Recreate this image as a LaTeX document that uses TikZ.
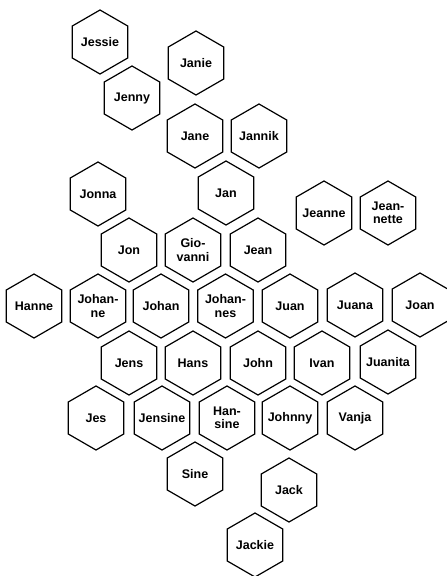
\documentclass[tikz,border=0pt]{standalone}
\usepackage{fontspec}
\setmainfont{Liberation Sans}
\usetikzlibrary{shapes.geometric}
\tikzset{
  hexa/.style={draw=black, line width=1.2pt, regular polygon, regular polygon sides=6,
    shape border rotate=30, minimum size=64pt, inner sep=0pt},
  hlbl/.style={align=center, inner sep=0pt,
    font=\bfseries\fontsize{12.5}{13.5}\selectfont}
}
\newcommand{\hexnode}[3]{%
  \node[hexa] (#1) at (#2) {};
  \node[hlbl] (#1-t) at (#1.center) {#3};}
\begin{document}
\begin{tikzpicture}[x=1pt,y=-1pt]
\useasboundingbox (0,0) rectangle (447,576);
\hexnode{jessie}{100,42}{Jessie}
\hexnode{janie}{196,63}{Janie}
\hexnode{jenny}{132,98}{Jenny}
\hexnode{jane}{195,136}{Jane}
\hexnode{jannik}{259,136}{Jannik}
\hexnode{jonna}{98,194}{Jonna}
\hexnode{jan}{226,193}{Jan}
\hexnode{jeanne}{324,213}{Jeanne}
\hexnode{jeannette}{388,213}{Jean-\\nette}
\hexnode{jon}{129,250}{Jon}
\hexnode{giovanni}{193,250}{Gio-\\vanni}
\hexnode{jean}{258,250}{Jean}
\hexnode{hanne}{34,306}{Hanne}
\hexnode{johanne}{98,306}{Johan-\\ne}
\hexnode{johan}{161,306}{Johan}
\hexnode{johannes}{225.5,306}{Johan-\\nes}
\hexnode{juan}{290,306}{Juan}
\hexnode{juana}{355,305}{Juana}
\hexnode{joan}{420,305}{Joan}
\hexnode{jens}{129,363}{Jens}
\hexnode{hans}{193,363}{Hans}
\hexnode{john}{258,363}{John}
\hexnode{ivan}{322,363}{Ivan}
\hexnode{juanita}{388,362}{Juanita}
\hexnode{jes}{96,418}{Jes}
\hexnode{jensine}{162,418}{Jensine}
\hexnode{hansine}{227,418}{Han-\\sine}
\hexnode{johnny}{290,418}{Johnny}
\hexnode{vanja}{355,418}{Vanja}
\hexnode{sine}{195,474}{Sine}
\hexnode{jack}{289,490}{Jack}
\hexnode{jackie}{255,545}{Jackie}
\end{tikzpicture}
\end{document}
